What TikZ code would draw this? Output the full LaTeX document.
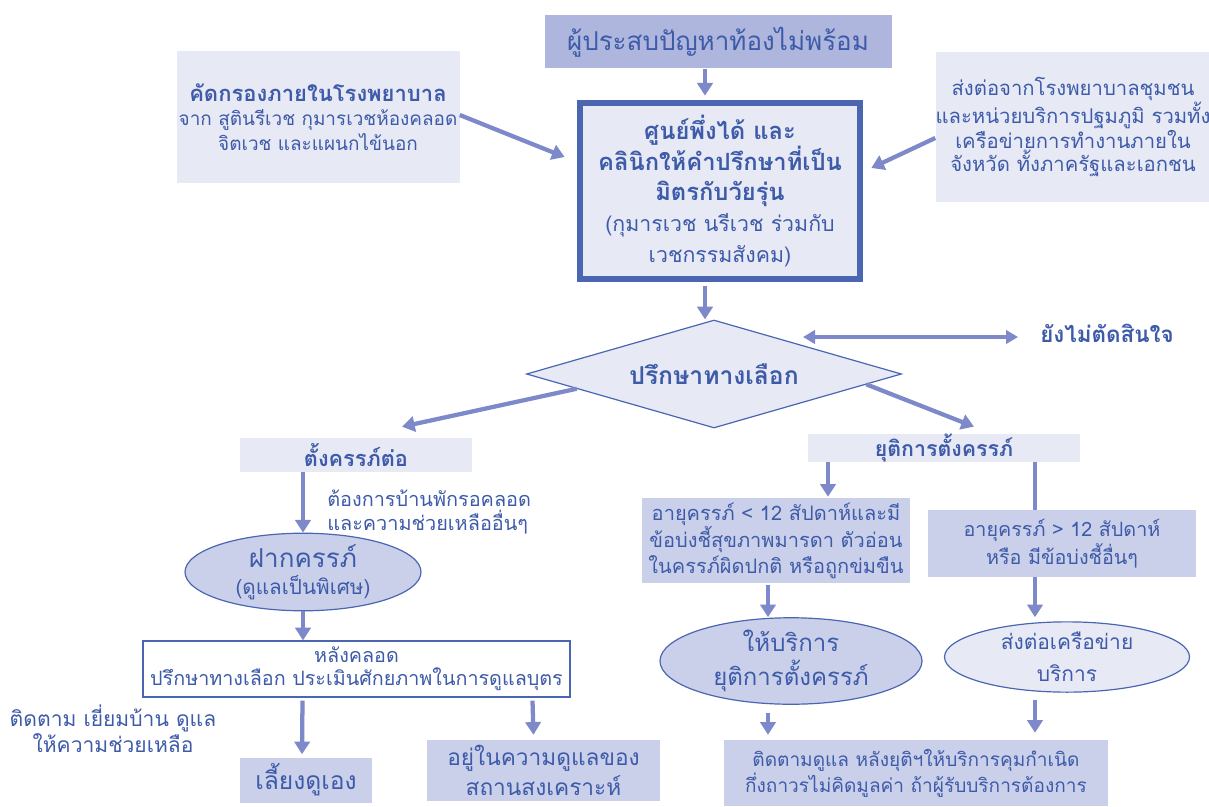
\documentclass[tikz,border=0pt]{standalone}
\usepackage{fontspec}
\setmainfont[Script=Thai]{Loma}
\usetikzlibrary{shapes.geometric,arrows.meta,calc}
\definecolor{ink}{HTML}{3D5BA9}
\definecolor{flow}{HTML}{7D89C9}
\definecolor{edge}{HTML}{4A66B3}
\definecolor{paleA}{HTML}{E7E9F5}
\definecolor{paleB}{HTML}{CBD0EA}
\definecolor{paleC}{HTML}{AEB6DD}
\newcommand\fs[2]{\fontsize{#1}{#2}\selectfont}
\begin{document}
\begin{tikzpicture}[x=0.75pt,y=-0.75pt,
  every node/.style={text=ink, align=center, inner sep=0pt},
  sz/.style 2 args={minimum width=#1*0.75pt, minimum height=#2*0.75pt},
  panel/.style={rectangle, fill=#1},
  oval/.style={ellipse, draw=edge, line width=0.9pt, fill=#1},
  arr/.style={draw=flow, line width=3.2pt, -{Triangle[width=11.5pt,length=9.5pt]}},
  link/.style={draw=flow, line width=3.2pt},
  darr/.style={draw=flow, line width=2.6pt, {Triangle[width=10pt,length=9pt]}-{Triangle[width=10pt,length=9pt]}},
]
\useasboundingbox (0,0) rectangle (1209,806);

% --- intake ---------------------------------------------------------------
\node[panel=paleC, sz={347}{53}, font=\fs{19.5}{24}] (who) at (718,42) {ผู้ประสบปัญหาท้องไม่พร้อม};

\node[panel=paleA, sz={283}{131}, font=\fs{14.2}{18.5}] (screen) at (318,117)
  {{\bfseries\fs{16.5}{18.5}คัดกรองภายในโรงพยาบาล}\\จาก สูตินรีเวช กุมารเวชห้องคลอด\\จิตเวช และแผนกไข้นอก};

\node[panel=paleA, sz={272}{150}, font=\fs{15.2}{17}] (refer) at (1073,127)
  {ส่งต่อจากโรงพยาบาลชุมชน\\และหน่วยบริการปฐมภูมิ รวมทั้ง\\เครือข่ายการทำงานภายใน\\จังหวัด ทั้งภาครัฐและเอกชน};

\node[panel=paleA, draw=edge, line width=5pt, sz={280}{176}, font=\fs{16}{23}] (ctr) at (720,191)
  {{\bfseries\fs{17.8}{23}ศูนย์พึ่งได้ และ}\\{\bfseries\fs{17.8}{23}คลินิกให้คำปรึกษาที่เป็น}\\{\bfseries\fs{17.8}{23}มิตรกับวัยรุ่น}\\(กุมารเวช นรีเวช ร่วมกับ\\เวชกรรมสังคม)};

% --- decision ---------------------------------------------------------------
\node[diamond, draw=edge, line width=0.9pt, fill=paleA, sz={375}{108}, aspect=3.47,
  font=\bfseries\fs{18.5}{20}] (opt) at (714,374) {ปรึกษาทางเลือก};

\node[anchor=west, font=\bfseries\fs{16.8}{19}] (undec) at (1040,333) {ยังไม่ตัดสินใจ};
\coordinate (undecL) at (803,337);

\node[panel=paleA, sz={232}{34}, font=\bfseries\fs{16.3}{18}] (cont) at (356,455) {ตั้งครรภ์ต่อ};
\node[panel=paleA, sz={272}{28}, font=\bfseries\fs{16}{18}] (term) at (944,448) {ยุติการตั้งครรภ์};

% --- continuing the pregnancy ----------------------------------------------
\node[anchor=west, align=left, font=\fs{14.9}{18.5}] (needs) at (327,512)
  {ต้องการบ้านพักรอคลอด\\และความช่วยเหลืออื่นๆ};

\node[oval=paleB, sz={236}{62}, font=\fs{15.5}{20}] (anc) at (303,572)
  {{\fs{19.5}{20}ฝากครรภ์}\\(ดูแลเป็นพิเศษ)};

\node[panel=white, draw=edge, line width=0.9pt, sz={427}{56}, font=\fs{14.8}{17}] (post) at (356.5,669)
  {หลังคลอด\\ปรึกษาทางเลือก ประเมินศักยภาพในการดูแลบุตร};

\node[font=\fs{15.8}{17}] (visit) at (113,729) {ติดตาม เยี่ยมบ้าน ดูแล\\ให้ความช่วยเหลือ};

\node[panel=paleB, sz={132}{45}, font=\fs{18.5}{20}] (self) at (306,780) {เลี้ยงดูเอง};
\node[panel=paleB, sz={233}{61}, font=\fs{17}{22}] (orph) at (543.5,770.5) {อยู่ในความดูแลของ\\สถานสงเคราะห์};

% --- terminating the pregnancy ---------------------------------------------
\node[panel=paleB, sz={268}{85}, font=\fs{15}{19}] (age1) at (776,540.5)
  {อายุครรภ์ < 12 สัปดาห์และมี\\ข้อบ่งชี้สุขภาพมารดา ตัวอ่อน\\ในครรภ์ผิดปกติ หรือถูกข่มขืน};
\node[panel=paleB, sz={268}{67}, font=\fs{14.8}{19}] (age2) at (1062,543.5)
  {อายุครรภ์ > 12 สัปดาห์\\หรือ มีข้อบ่งชี้อื่นๆ};

\node[oval=paleB, sz={262}{72}, font=\fs{18}{25}] (ell1) at (791,661) {ให้บริการ\\ยุติการตั้งครรภ์};
\node[oval=paleA, sz={245}{62}, font=\fs{15.7}{24}] (ell2) at (1067,657) {ส่งต่อเครือข่าย\\บริการ};

\node[panel=paleB, sz={384}{66}, font=\fs{14.3}{19.5}] (fu) at (916,773)
  {ติดตามดูแล หลังยุติฯให้บริการคุมกำเนิด\\กึ่งถาวรไม่คิดมูลค่า ถ้าผู้รับบริการต้องการ};

% --- connectors -------------------------------------------------------------
\draw[arr] ($(who.south)+(-13,0)$) -- ($(ctr.north)+(-15,-4)$);
\draw[arr] ($(screen.east)+(0,-2)$) -- ($(ctr.west)+(-12,-34)$);
\draw[arr] ($(refer.west)+(0,11)$) -- ($(ctr.east)+(8,-23)$);
\draw[arr] ($(ctr.south)+(-15,4)$) -- ($(opt.north)+(-9,0)$);

\draw[darr] (undecL) -- ($(undec.west)+(-22,4)$);

\draw[arr] ($(opt.west)!0.27!(opt.south)$) -- ($(cont.north)+(46,-11)$);
\draw[arr] ($(opt.east)!0.19!(opt.south)$) -- ($(term.north)+(30,-7)$);

\draw[arr] (cont.south -| anc.north) -- (anc.north);
\draw[arr] (anc.south) -- (post.north -| anc.south);
\draw[arr] ($(post.south)+(-54,3)$) -- ($(self.north)+(-4,-3)$);
\draw[arr] ($(post.south)+(176,3)$) -- ($(orph.north)+(-10,-5)$);

\draw[arr] ($(term.south)+(-116,0)$) -- ($(age1.north)+(52,-1)$);
\draw[link] ($(term.south)+(91,0)$) -- ($(age2.north)+(-27,0)$);
\draw[arr] ($(age1.south)+(-8,2)$) -- ($(ell1.north)+(-23,0)$);
\draw[arr] ($(age2.south)+(-27,0)$) -- ($(ell2.north)+(-32,-4)$);
\draw[arr] ($(ell1.south)+(-23,8)$) -- ($(fu.north)+(-148,-5)$);
\draw[arr] ($(ell2.south)+(-32,7)$) -- ($(fu.north)+(119,-7)$);
\end{tikzpicture}
\end{document}
